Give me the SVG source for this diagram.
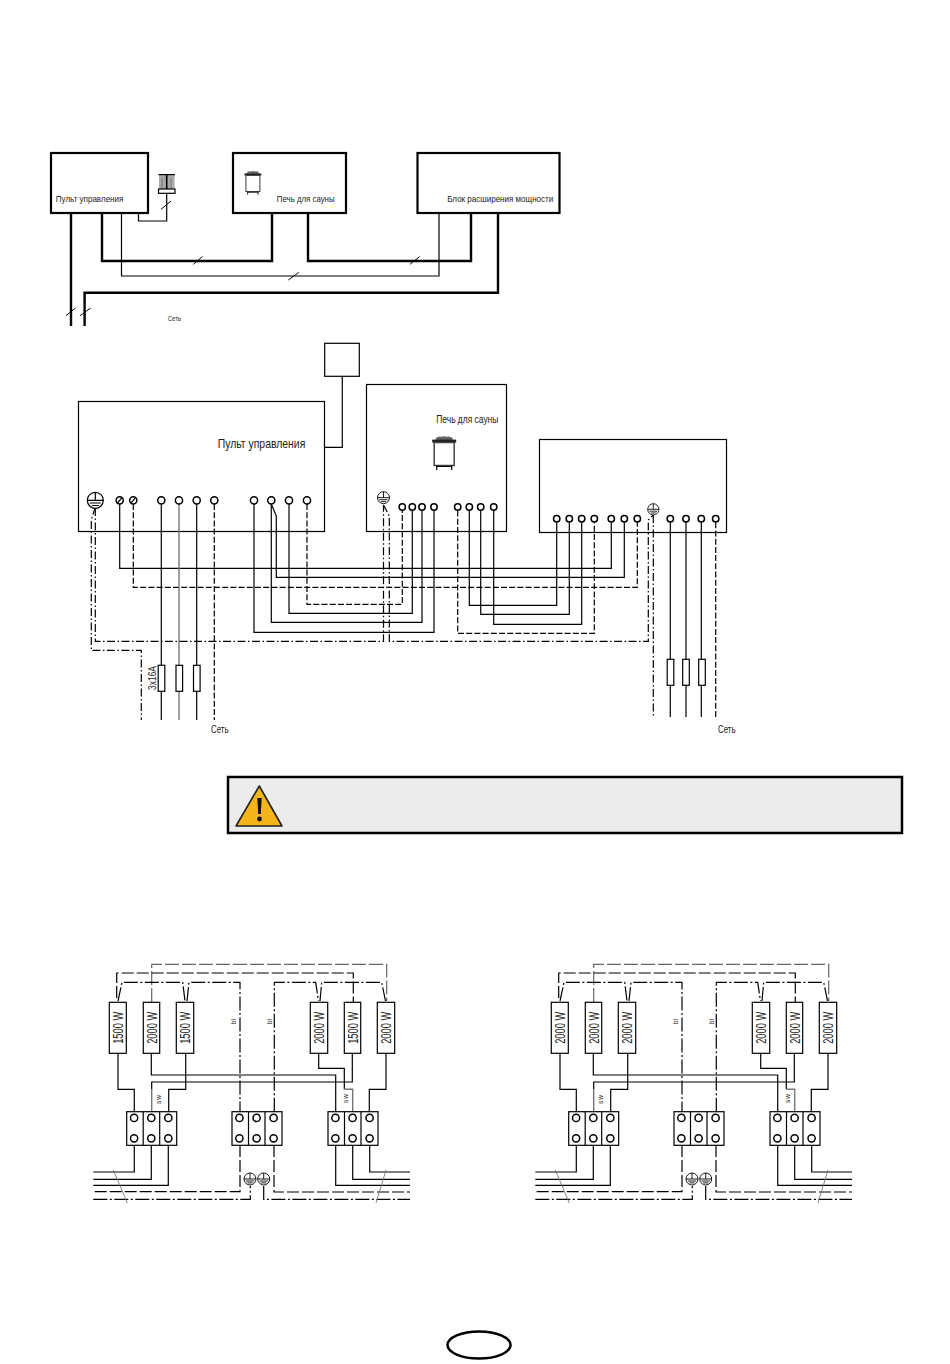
<svg xmlns="http://www.w3.org/2000/svg" xmlns:xlink="http://www.w3.org/1999/xlink" width="950" height="1364" viewBox="0 0 950 1364">
<style>
text{font-family:"Liberation Sans Narrow","Liberation Sans",sans-serif;fill:#222}
.n{fill:none;stroke:#000;stroke-width:1.2}
.b{fill:#fff;stroke:#000;stroke-width:1.2}
.hb{fill:#fff;stroke:#000;stroke-width:2.2}
.thick{fill:none;stroke:#000;stroke-width:2.4}
.w{fill:none;stroke:#000;stroke-width:1.2}
.gw{fill:none;stroke:#777;stroke-width:1.4}
.d{fill:none;stroke:#000;stroke-width:1.2;stroke-dasharray:6 2.2}
.hd{fill:none;stroke:#000;stroke-width:1.2;stroke-dasharray:12 3}
.gd{fill:none;stroke:#666;stroke-width:1.2;stroke-dasharray:14 3}
.dd{fill:none;stroke:#000;stroke-width:1.2;stroke-dasharray:8 2.5 1.5 2.5}
.hdd{fill:none;stroke:#000;stroke-width:1.2;stroke-dasharray:14 2.5 2 2.5}
.tick{fill:none;stroke:#000;stroke-width:1}
.gt{fill:none;stroke:#777;stroke-width:.9}
.t{fill:#fff;stroke:#000;stroke-width:1.5}
.e{fill:#fff;stroke:#000;stroke-width:1.2}
</style>
<defs>
<g id="earth"><circle class="e" r="8"/><path class="n" d="M-8 0H8M0-8V0M-5.5 2.7H5.5M-3.5 5.2H3.5"/></g>
<g id="heater-icon">
<path d="M3.5 3.2Q6 1 9 1.8Q12 0.5 15 1.8Q18 1 20.5 3.2V5H3.5Z" fill="#666"/>
<rect x="0" y="4.6" width="24" height="3" fill="#222"/>
<rect x="2" y="7.5" width="20" height="23" fill="#fff" stroke="#444" stroke-width="1.5"/>
<path d="M4.5 30.5V35M19.5 30.5V35M4.5 31.5H19.5" class="n"/>
</g>
<g id="fuse"><rect class="b" x="-3.3" y="0" width="6.6" height="26"/></g>
<g id="block">
<rect class="b" x="0" y="0" width="50" height="33.6"/>
<path class="n" d="M16.5 0V33.6M33 0V33.6"/>
<circle class="t" cx="7.4" cy="6.2" r="3.6"/><circle class="t" cx="24.6" cy="6.2" r="3.6"/><circle class="t" cx="41.6" cy="6.2" r="3.6"/>
<circle class="t" cx="7.4" cy="26.6" r="3.6"/><circle class="t" cx="24.6" cy="26.6" r="3.6"/><circle class="t" cx="41.6" cy="26.6" r="3.6"/>
</g>
<g id="heater-wiring">
<path class="gd" d="M151.7 1002V964.3H386.7V1001"/>
<path class="hd" d="M116.7 998V973H353.3V1002"/>
<path class="hdd" d="M118 1001L122 982.3H182.7L185 1001M187 1001L189 982.3H240V1111.7"/>
<path class="hdd" d="M274.3 1111.7V982.3H315.7L318.5 1001M320 1001L321.7 982.3H381.7L385.5 1001"/>
<path class="w" d="M118 1053V1089.3H134.3V1111.7"/>
<path class="w" d="M151.3 1053V1075H335.7V1111.7"/>
<path class="w" d="M185.7 1053V1089.3H168.7V1111.7"/>
<path class="w" d="M318.7 1053V1068.3H344.3V1089.3"/>
<path class="gw" d="M344.3 1089.3H352.7V1111.7"/>
<path class="w" d="M352.3 1053V1082H151.7V1089"/>
<path class="gw" d="M151.7 1089V1111.7"/>
<path class="w" d="M386 1053V1089.3H369.3V1111.7"/>
<path class="w" d="M134.3 1145V1172H93.3M151.3 1145V1179.3H93.3M168.3 1145V1185.3H93.3"/>
<path class="w" d="M369.7 1145V1172H410M352.7 1145V1179.3H410M335.7 1145V1185.3H410"/>
<path class="hd" d="M240 1145V1191.7H93.3M274 1145V1192H410"/>
<path class="hdd" d="M93.3 1199.3H250.3V1186M263.7 1186V1199.3H410"/>
<path class="gt" d="M113.3 1170L127.3 1203M386 1170L376 1203"/>
</g>
<g id="heater-terminals">
<use xlink:href="#block" x="126.7" y="1111.7"/>
<use xlink:href="#block" x="232" y="1111.7"/>
<use xlink:href="#block" x="328" y="1111.7"/>
<use xlink:href="#earth" transform="translate(250 1179) scale(.75)"/>
<use xlink:href="#earth" transform="translate(263.7 1179) scale(.75)"/>
<g font-size="6.5" fill="#333">
<text transform="translate(235.5 1021.7) rotate(-90)" text-anchor="middle">bl</text>
<text transform="translate(271.5 1021.7) rotate(-90)" text-anchor="middle">bl</text>
<text transform="translate(161 1099) rotate(-90)" text-anchor="middle" letter-spacing="1">sw</text>
<text transform="translate(347.5 1098) rotate(-90)" text-anchor="middle" letter-spacing="1">sw</text>
</g>
</g>
</defs>

<g id="connectors-top">
<path class="thick" d="M71 213V326"/>
<path class="thick" d="M84.6 326V292.7H498V213"/>
<path class="thick" d="M102 213V261H272V213"/>
<path class="thick" d="M308 213V261H471V213"/>
<path class="w" d="M121.5 213V276H439V213"/>
<path class="w" d="M138.5 213V221H166.7V193"/>
<path class="tick" d="M66 315.7L75.5 308M80 315.7L90.7 308M193.4 264.3L202.5 256.5M410 264.3L419.7 256.5M288.3 280L298.8 272.4M161 209.3L171 201"/>
</g>
<g id="top-panel"><rect class="hb" x="51" y="153" width="97" height="60"/><text x="55.8" y="202" font-size="9.5" textLength="67.6" lengthAdjust="spacingAndGlyphs">Пульт управления</text></g>
<g id="top-sensor">
<rect x="159" y="175" width="15.5" height="14" fill="#aaa"/>
<path d="M158.5 174.6H175" stroke="#000" stroke-width="1.2"/>
<path d="M166.7 175V189" stroke="#000" stroke-width="1.6"/>
<path d="M162 178V188M171 178V188" stroke="#777" stroke-width="1"/>
<rect class="b" x="158.5" y="189" width="16.5" height="4.3"/>
</g>
<g id="top-heater"><rect class="hb" x="233" y="153" width="113" height="60"/><use xlink:href="#heater-icon" transform="translate(244.5 170.2) scale(.7)"/><text x="276.8" y="202" font-size="9.5" textLength="57.8" lengthAdjust="spacingAndGlyphs">Печь для сауны</text></g>
<g id="top-extension"><rect class="hb" x="417.5" y="153" width="142" height="60"/><text x="447.2" y="202" font-size="9.5" textLength="106" lengthAdjust="spacingAndGlyphs">Блок расширения мощности</text></g>
<text id="top-mains" x="167.7" y="321" font-size="7" textLength="13.3" lengthAdjust="spacingAndGlyphs">Сеть</text>

<g id="panel"><rect class="b" x="78.5" y="401.5" width="246" height="130"/><text x="217.7" y="447.7" font-size="13" textLength="87.6" lengthAdjust="spacingAndGlyphs">Пульт управления</text></g>
<g id="sensor"><rect class="b" x="324.7" y="343.3" width="34.6" height="33"/></g>
<g id="heater"><rect class="b" x="366.5" y="384.5" width="140" height="147"/><text x="436.3" y="423" font-size="11" textLength="62" lengthAdjust="spacingAndGlyphs">Печь для сауны</text><use xlink:href="#heater-icon" transform="translate(432.2 435)"/></g>
<g id="extension"><rect class="b" x="539.5" y="439.5" width="187" height="93"/></g>

<g id="connectors-main">
<path class="w" d="M342.3 376.3V447.3H324.7"/>
<path class="w" d="M119.7 504V568.3H611.3V522.3"/>
<path class="d" d="M133.3 504V587.3H637.3V522.3"/>
<path class="w" d="M161.3 504V720M196.7 504V720"/>
<path class="gw" d="M179 504V720"/>
<path class="d" d="M214.3 504V720"/>
<path class="w" d="M254 504V632.3H434V510.6"/>
<path class="w" d="M271.3 504V622.3H422V510.6"/>
<path class="w" d="M271.3 504L276.3 516V577.3H624.3V522.3"/>
<path class="w" d="M289 504V613.3H412.3V510.6"/>
<path class="d" d="M307 504V604.3H402.3V510.6"/>
<path class="dd" d="M95.3 508V641.3H383.5V505"/>
<path class="dd" d="M95.3 507L91.3 520V650.3H141.3V720"/>
<path class="dd" d="M383.5 505L389.3 516V641.3H648.3V520L653.3 515"/>
<path class="dd" d="M653.3 515V717"/>
<path class="d" d="M457.7 510.6V633.3H594.3V522.3"/>
<path class="w" d="M469.3 510.6V605.3H556.7V522.3"/>
<path class="w" d="M480.7 510.6V614.3H569.3V522.3"/>
<path class="w" d="M493.7 510.6V624.3H581.7V522.3"/>
<path class="w" d="M670.3 522.3V717M686 522.3V717M701.3 522.3V717"/>
<path class="d" d="M715.7 522.3V717"/>
</g>

<g id="panel-terminals">
<use xlink:href="#earth" transform="translate(95.3 500.3)"/>
<circle class="t" cx="119.7" cy="500.3" r="3.6"/><path class="n" d="M117.5 503L122 497.6"/>
<circle class="t" cx="133.3" cy="500.3" r="3.6"/><path class="n" d="M131 503L135.6 497.6"/>
<circle class="t" cx="161.3" cy="500.3" r="3.6"/><circle class="t" cx="179" cy="500.3" r="3.6"/><circle class="t" cx="196.7" cy="500.3" r="3.6"/><circle class="t" cx="214.3" cy="500.3" r="3.6"/>
<circle class="t" cx="254" cy="500.3" r="3.6"/><circle class="t" cx="271.3" cy="500.3" r="3.6"/><circle class="t" cx="289" cy="500.3" r="3.6"/><circle class="t" cx="307" cy="500.3" r="3.6"/>
</g>
<g id="heater-term">
<use xlink:href="#earth" transform="translate(383.5 497.7) scale(.75)"/>
<circle class="t" cx="402.3" cy="507" r="3.2"/><circle class="t" cx="412.3" cy="507" r="3.2"/><circle class="t" cx="422" cy="507" r="3.2"/><circle class="t" cx="434" cy="507" r="3.2"/>
<circle class="t" cx="457.7" cy="507" r="3.2"/><circle class="t" cx="469.3" cy="507" r="3.2"/><circle class="t" cx="480.7" cy="507" r="3.2"/><circle class="t" cx="493.7" cy="507" r="3.2"/>
</g>
<g id="extension-terminals">
<use xlink:href="#earth" transform="translate(653.3 509.3) scale(.7)"/>
<circle class="t" cx="556.7" cy="518.7" r="3.2"/><circle class="t" cx="569.3" cy="518.7" r="3.2"/><circle class="t" cx="581.7" cy="518.7" r="3.2"/><circle class="t" cx="594.3" cy="518.7" r="3.2"/>
<circle class="t" cx="611.3" cy="518.7" r="3.2"/><circle class="t" cx="624.3" cy="518.7" r="3.2"/><circle class="t" cx="637.3" cy="518.7" r="3.2"/>
<circle class="t" cx="670.3" cy="518.7" r="3.2"/><circle class="t" cx="686" cy="518.7" r="3.2"/><circle class="t" cx="701.3" cy="518.7" r="3.2"/><circle class="t" cx="715.7" cy="518.7" r="3.2"/>
</g>
<g id="fuses-left">
<use xlink:href="#fuse" x="161.5" y="665.3"/><use xlink:href="#fuse" x="179.3" y="665.3"/><use xlink:href="#fuse" x="196.8" y="665.3"/>
</g>
<g id="fuses-right">
<use xlink:href="#fuse" x="670.5" y="659.3"/><use xlink:href="#fuse" x="686" y="659.3"/><use xlink:href="#fuse" x="702" y="659.3"/>
</g>
<text transform="translate(155.7 690) rotate(-90)" font-size="10" textLength="24" lengthAdjust="spacingAndGlyphs">3x16A</text>
<text x="211" y="732.5" font-size="11" textLength="17.5" lengthAdjust="spacingAndGlyphs">Сеть</text>
<text x="718" y="733" font-size="11" textLength="17.5" lengthAdjust="spacingAndGlyphs">Сеть</text>

<g id="warning">
<rect x="228" y="777" width="674" height="56" fill="#ececec" stroke="#000" stroke-width="2.5"/>
<path d="M259.3 786L282 826H236Z" fill="#f4b41c" stroke="#222" stroke-width="1.6" stroke-linejoin="round"/>
<path d="M257.3 798H261.7L260.8 814H258.2Z" fill="#111"/>
<circle cx="259.5" cy="819" r="2.4" fill="#111"/>
</g>

<g id="heater-a">
<use xlink:href="#heater-wiring"/>
<use xlink:href="#heater-terminals"/>
<g id="a-r1"><rect class="b" x="109.3" y="1002.3" width="17" height="51"/><text transform="translate(123.2 1027.8) rotate(-90)" text-anchor="middle" font-size="14" textLength="32" lengthAdjust="spacingAndGlyphs">1500 W</text></g>
<g id="a-r2"><rect class="b" x="143.3" y="1002.3" width="16.4" height="51"/><text transform="translate(156.8 1027.8) rotate(-90)" text-anchor="middle" font-size="14" textLength="32" lengthAdjust="spacingAndGlyphs">2000 W</text></g>
<g id="a-r3"><rect class="b" x="176.3" y="1002.3" width="17.4" height="51"/><text transform="translate(190.3 1027.8) rotate(-90)" text-anchor="middle" font-size="14" textLength="32" lengthAdjust="spacingAndGlyphs">1500 W</text></g>
<g id="a-r4"><rect class="b" x="310.3" y="1002.3" width="17.4" height="51"/><text transform="translate(324.2 1027.8) rotate(-90)" text-anchor="middle" font-size="14" textLength="32" lengthAdjust="spacingAndGlyphs">2000 W</text></g>
<g id="a-r5"><rect class="b" x="344.3" y="1002.3" width="16.4" height="51"/><text transform="translate(357.8 1027.8) rotate(-90)" text-anchor="middle" font-size="14" textLength="32" lengthAdjust="spacingAndGlyphs">1500 W</text></g>
<g id="a-r6"><rect class="b" x="377.3" y="1002.3" width="17.4" height="51"/><text transform="translate(391.2 1027.8) rotate(-90)" text-anchor="middle" font-size="14" textLength="32" lengthAdjust="spacingAndGlyphs">2000 W</text></g>
</g>
<g id="heater-b" transform="translate(442 0)">
<use xlink:href="#heater-wiring"/>
<use xlink:href="#heater-terminals"/>
<g id="b-r1"><rect class="b" x="109.3" y="1002.3" width="17" height="51"/><text transform="translate(123.2 1027.8) rotate(-90)" text-anchor="middle" font-size="14" textLength="32" lengthAdjust="spacingAndGlyphs">2000 W</text></g>
<g id="b-r2"><rect class="b" x="143.3" y="1002.3" width="16.4" height="51"/><text transform="translate(156.8 1027.8) rotate(-90)" text-anchor="middle" font-size="14" textLength="32" lengthAdjust="spacingAndGlyphs">2000 W</text></g>
<g id="b-r3"><rect class="b" x="176.3" y="1002.3" width="17.4" height="51"/><text transform="translate(190.3 1027.8) rotate(-90)" text-anchor="middle" font-size="14" textLength="32" lengthAdjust="spacingAndGlyphs">2000 W</text></g>
<g id="b-r4"><rect class="b" x="310.3" y="1002.3" width="17.4" height="51"/><text transform="translate(324.2 1027.8) rotate(-90)" text-anchor="middle" font-size="14" textLength="32" lengthAdjust="spacingAndGlyphs">2000 W</text></g>
<g id="b-r5"><rect class="b" x="344.3" y="1002.3" width="16.4" height="51"/><text transform="translate(357.8 1027.8) rotate(-90)" text-anchor="middle" font-size="14" textLength="32" lengthAdjust="spacingAndGlyphs">2000 W</text></g>
<g id="b-r6"><rect class="b" x="377.3" y="1002.3" width="17.4" height="51"/><text transform="translate(391.2 1027.8) rotate(-90)" text-anchor="middle" font-size="14" textLength="32" lengthAdjust="spacingAndGlyphs">2000 W</text></g>
</g>
<ellipse id="page-oval" cx="479" cy="1345" rx="31.5" ry="13.5" fill="#fff" stroke="#000" stroke-width="2.5"/>
</svg>
